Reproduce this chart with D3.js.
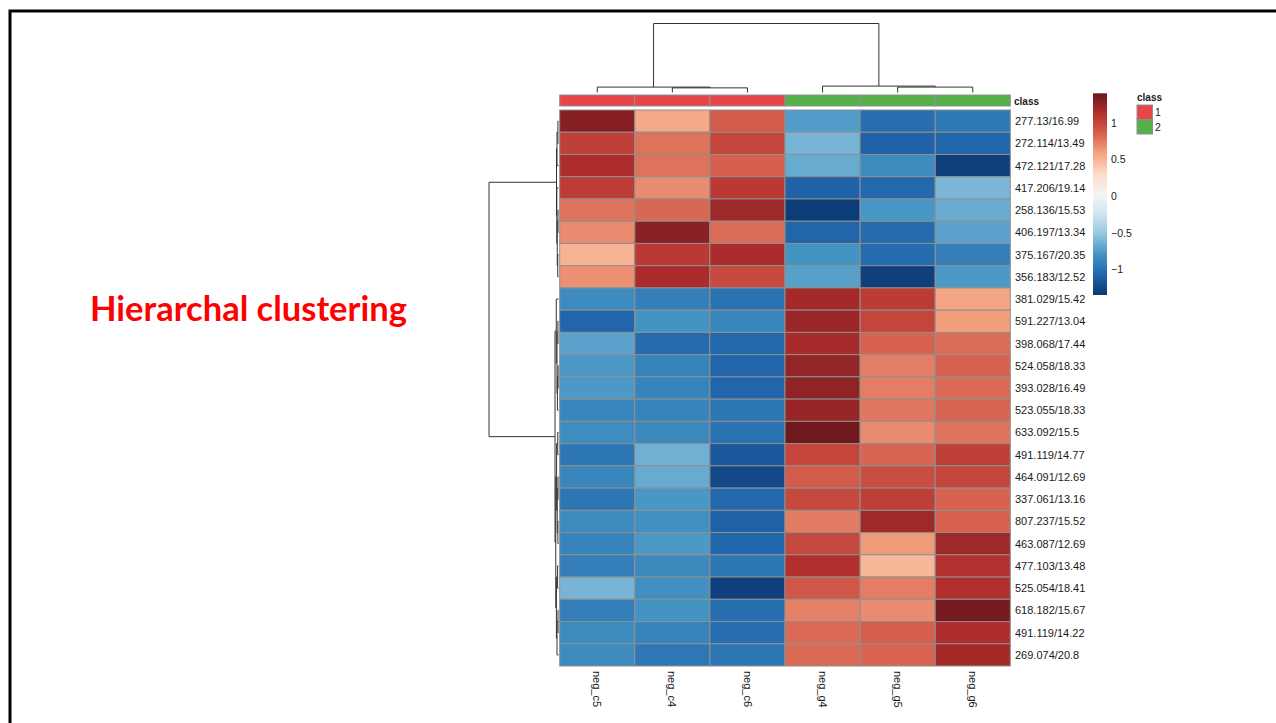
<!DOCTYPE html>
<html>
<head>
<meta charset="utf-8">
<script src="https://cdn.jsdelivr.net/npm/d3@7"></script>
<style>
  body { margin: 0; background: #fff; }
  svg { display: block; }
  text { font-family: "Liberation Sans", Arial, sans-serif; fill: #1a1a1a; }
</style>
</head>
<body>
<svg id="heat" width="1276" height="723"></svg>
<script>
// samples (columns) and class annotation
var samples = ["neg_c5", "neg_c4", "neg_c6", "neg_g4", "neg_g5", "neg_g6"];
var sampleClass = ["1", "1", "1", "2", "2", "2"];

// features (rows), in dendrogram order
var features = ["277.13/16.99", "272.114/13.49", "472.121/17.28", "417.206/19.14", "258.136/15.53",
  "406.197/13.34", "375.167/20.35", "356.183/12.52", "381.029/15.42", "591.227/13.04",
  "398.068/17.44", "524.058/18.33", "393.028/16.49", "523.055/18.33", "633.092/15.5",
  "491.119/14.77", "464.091/12.69", "337.061/13.16", "807.237/15.52", "463.087/12.69",
  "477.103/13.48", "525.054/18.41", "618.182/15.67", "491.119/14.22", "269.074/20.8"];

// scaled values, one array per sample
var negC5 = [1.30, 1.03, 1.15, 1.05, 0.77, 0.68, 0.50, 0.66, -0.85, -1.08, -0.72, -0.77, -0.77, -0.88, -0.84, -0.98, -0.88, -0.98, -0.85, -0.90, -0.92, -0.62, -0.92, -0.85, -0.85];
var negC4 = [0.56, 0.78, 0.78, 0.68, 0.82, 1.28, 1.07, 1.16, -0.92, -0.80, -1.04, -0.90, -0.90, -0.90, -0.86, -0.64, -0.67, -0.78, -0.82, -0.77, -0.86, -0.82, -0.80, -0.90, -0.97];
var negC6 = [0.88, 1.00, 0.85, 1.07, 1.20, 0.80, 1.16, 0.98, -1.00, -0.88, -1.06, -1.08, -1.08, -0.98, -1.00, -1.15, -1.25, -1.06, -1.10, -1.07, -0.98, -1.30, -1.02, -1.02, -0.98];
var negG4 = [-0.75, -0.62, -0.67, -1.10, -1.32, -1.08, -0.80, -0.73, 1.18, 1.22, 1.17, 1.24, 1.26, 1.23, 1.38, 1.00, 0.88, 0.98, 0.74, 0.98, 1.13, 0.90, 0.72, 0.81, 0.81];
var negG5 = [-1.03, -1.10, -0.85, -1.06, -0.78, -1.04, -1.04, -1.30, 1.06, 1.00, 0.84, 0.73, 0.73, 0.76, 0.68, 0.83, 0.95, 1.04, 1.20, 0.62, 0.48, 0.73, 0.68, 0.86, 0.83];
var negG6 = [-0.97, -1.08, -1.30, -0.60, -0.67, -0.72, -0.92, -0.77, 0.57, 0.60, 0.80, 0.84, 0.81, 0.83, 0.77, 1.03, 1.00, 0.84, 0.84, 1.20, 1.12, 1.13, 1.36, 1.14, 1.18];
var series = [negC5, negC4, negC6, negG4, negG5, negG6];

// dendrograms: [height, left, right], leaves are indices
var colTree = [14, [1.1, 0, [0.94, 1, 2]], [1.3, 3, [1.1, 4, 5]]];
var rowTree = [14,
  [0.40, [0.30, [0.12, 0, 1], 2], [0.34, 3, [0.25, [0.10, 4, 5], [0.15, 6, 7]]]],
  [0.70,
    [0.45, 8, [0.30, [0.12, 9, 10], [0.22, [0.08, 11, 12], 13]]],
    [0.55, [0.38, [0.15, 14, 15], [0.25, [0.10, 16, 17], [0.12, 18, 19]]],
           [0.42, [0.18, 20, 21], [0.30, [0.10, 22, 23], 24]]]]];

var legendTicks = [1, 0.5, 0, -0.5, -1];
var classColors = {"1": "#E8454B", "2": "#55B04A"};
// blue -> white -> red ramp (RdBu-like, reds a bit browner as in the picture)
var ramp = ["#0b3872", "#2166ac", "#4393c3", "#92c5de", "#d1e5f0", "#f5f5f5",
  "#fddbc7", "#f4a582", "#d6604d", "#b32f2e", "#6a161c"];

var svg = d3.select("#heat");

// slide frame
svg.append("path")
  .attr("d", "M10,723V11H1276")
  .attr("fill", "none")
  .attr("stroke", "#000")
  .attr("stroke-width", 3);

svg.append("text")
  .attr("x", 90).attr("y", 321)
  .style("font-family", "Lato, 'Open Sans', sans-serif")
  .style("font-weight", "bold")
  .style("font-size", "34.5px")
  .style("fill", "#ff0000")
  .text("Hierarchal clustering");

var hmLeft = 559.7, hmRight = 1010.3, hmTop = 110, hmBottom = 666;
var x = d3.scaleBand().domain(samples).range([hmLeft, hmRight]);
var y = d3.scaleBand().domain(features).range([hmTop, hmBottom]);
var color = d3.scaleSequential(d3.piecewise(d3.interpolateRgb, ramp))
  .domain([-1.35, 1.40]);

var cells = [];
samples.forEach(function(s, j) {
  features.forEach(function(f, i) {
    cells.push({col: s, row: f, value: series[j][i]});
  });
});

var g = svg.append("g");
g.selectAll(".cell")
  .data(cells)
  .enter().append("rect")
  .attr("class", "cell")
  .attr("x", function(d) { return x(d.col); })
  .attr("y", function(d) { return y(d.row); })
  .attr("width", x.bandwidth())
  .attr("height", y.bandwidth())
  .style("fill", function(d) { return color(d.value); })
  .style("stroke", "#8f8f8f")
  .style("stroke-width", 1);

// class annotation bar
g.selectAll(".anno")
  .data(samples)
  .enter().append("rect")
  .attr("class", "anno")
  .attr("x", function(d) { return x(d); })
  .attr("y", 95)
  .attr("width", x.bandwidth())
  .attr("height", 11)
  .style("fill", function(d, i) { return classColors[sampleClass[i]]; })
  .style("stroke", "#8f8f8f");

svg.append("text")
  .attr("x", 1014).attr("y", 101)
  .attr("dominant-baseline", "central")
  .style("font-weight", "bold")
  .style("font-size", "10px")
  .text("class");

// row labels
svg.selectAll(".rowlab")
  .data(features)
  .enter().append("text")
  .attr("class", "rowlab")
  .attr("x", 1015)
  .attr("y", function(d) { return y(d) + y.bandwidth() / 2; })
  .attr("dominant-baseline", "central")
  .style("font-size", "11px")
  .text(function(d) { return d; });

// column labels, rotated
svg.selectAll(".collab")
  .data(samples)
  .enter().append("text")
  .attr("class", "collab")
  .attr("transform", function(d) { return "translate(" + (x(d) + x.bandwidth() / 2) + ",671) rotate(90)"; })
  .attr("dy", "0.35em")
  .style("font-size", "11px")
  .text(function(d) { return d; });

// dendrogram helper
function drawTree(tree, leafPos, hScale, vertical) {
  var root = d3.hierarchy(tree, function(d) { return Array.isArray(d) ? d.slice(1) : null; });
  root.eachAfter(function(n) {
    if (n.children) {
      n.pos = (n.children[0].pos + n.children[1].pos) / 2;
      n.h = n.data[0];
    } else {
      n.pos = leafPos(n.data);
      n.h = 0;
    }
  });
  var paths = [];
  root.each(function(n) {
    if (!n.children) return;
    var a = n.children[0], b = n.children[1];
    if (vertical) {
      paths.push("M" + a.pos + "," + hScale(a.h) + "V" + hScale(n.h) + "H" + b.pos + "V" + hScale(b.h));
    } else {
      paths.push("M" + hScale(a.h) + "," + a.pos + "H" + hScale(n.h) + "V" + b.pos + "H" + hScale(b.h));
    }
  });
  svg.append("g").selectAll("path")
    .data(paths)
    .enter().append("path")
    .attr("d", function(d) { return d; })
    .attr("fill", "none")
    .attr("stroke", "#333")
    .attr("stroke-width", 1);
}

var colH = d3.scaleLinear().domain([0, 14]).range([92.5, 23.5]);
drawTree(colTree, function(i) { return x(samples[i]) + x.bandwidth() / 2; }, colH, true);

var rowH = d3.scaleLinear().domain([0, 14]).range([558.5, 489]);
drawTree(rowTree, function(i) { return y(features[i]) + y.bandwidth() / 2; }, rowH, false);

// colour bar legend
var legY = d3.scaleLinear().domain([-1.35, 1.40]).range([295, 93.3]);
var defs = svg.append("defs");
var grad = defs.append("linearGradient")
  .attr("id", "rdbu")
  .attr("x1", 0).attr("y1", 1).attr("x2", 0).attr("y2", 0);
d3.range(0, 1.0001, 0.05).forEach(function(t) {
  grad.append("stop")
    .attr("offset", t)
    .attr("stop-color", color(-1.35 + t * 2.75));
});
svg.append("rect")
  .attr("x", 1093).attr("y", legY(1.40))
  .attr("width", 14)
  .attr("height", legY(-1.35) - legY(1.40))
  .style("fill", "url(#rdbu)");

var legAxis = svg.append("g")
  .attr("transform", "translate(1107,0)")
  .call(d3.axisRight(legY).tickValues(legendTicks).tickSize(0).tickPadding(4)
    .tickFormat(function(d) { return d < 0 ? "\u2212" + Math.abs(d) : String(d); }));
legAxis.select(".domain").remove();
legAxis.selectAll("text")
  .style("font-size", "10.5px")
  .style("font-family", "'Liberation Sans', Arial, sans-serif")
  .style("fill", "#1a1a1a");

// class legend
svg.append("text")
  .attr("x", 1137).attr("y", 101)
  .style("font-weight", "bold")
  .style("font-size", "10px")
  .text("class");
var classes = ["1", "2"];
svg.selectAll(".legbox")
  .data(classes)
  .enter().append("rect")
  .attr("class", "legbox")
  .attr("x", 1137)
  .attr("y", function(d, i) { return 105 + i * 14.5; })
  .attr("width", 15.5).attr("height", 14.5)
  .style("fill", function(d) { return classColors[d]; })
  .style("stroke", "#8f8f8f");
svg.selectAll(".legtxt")
  .data(classes)
  .enter().append("text")
  .attr("class", "legtxt")
  .attr("x", 1155)
  .attr("y", function(d, i) { return 112 + i * 14.5; })
  .attr("dominant-baseline", "central")
  .style("font-size", "10.5px")
  .text(function(d) { return d; });
</script>
</body>
</html>
